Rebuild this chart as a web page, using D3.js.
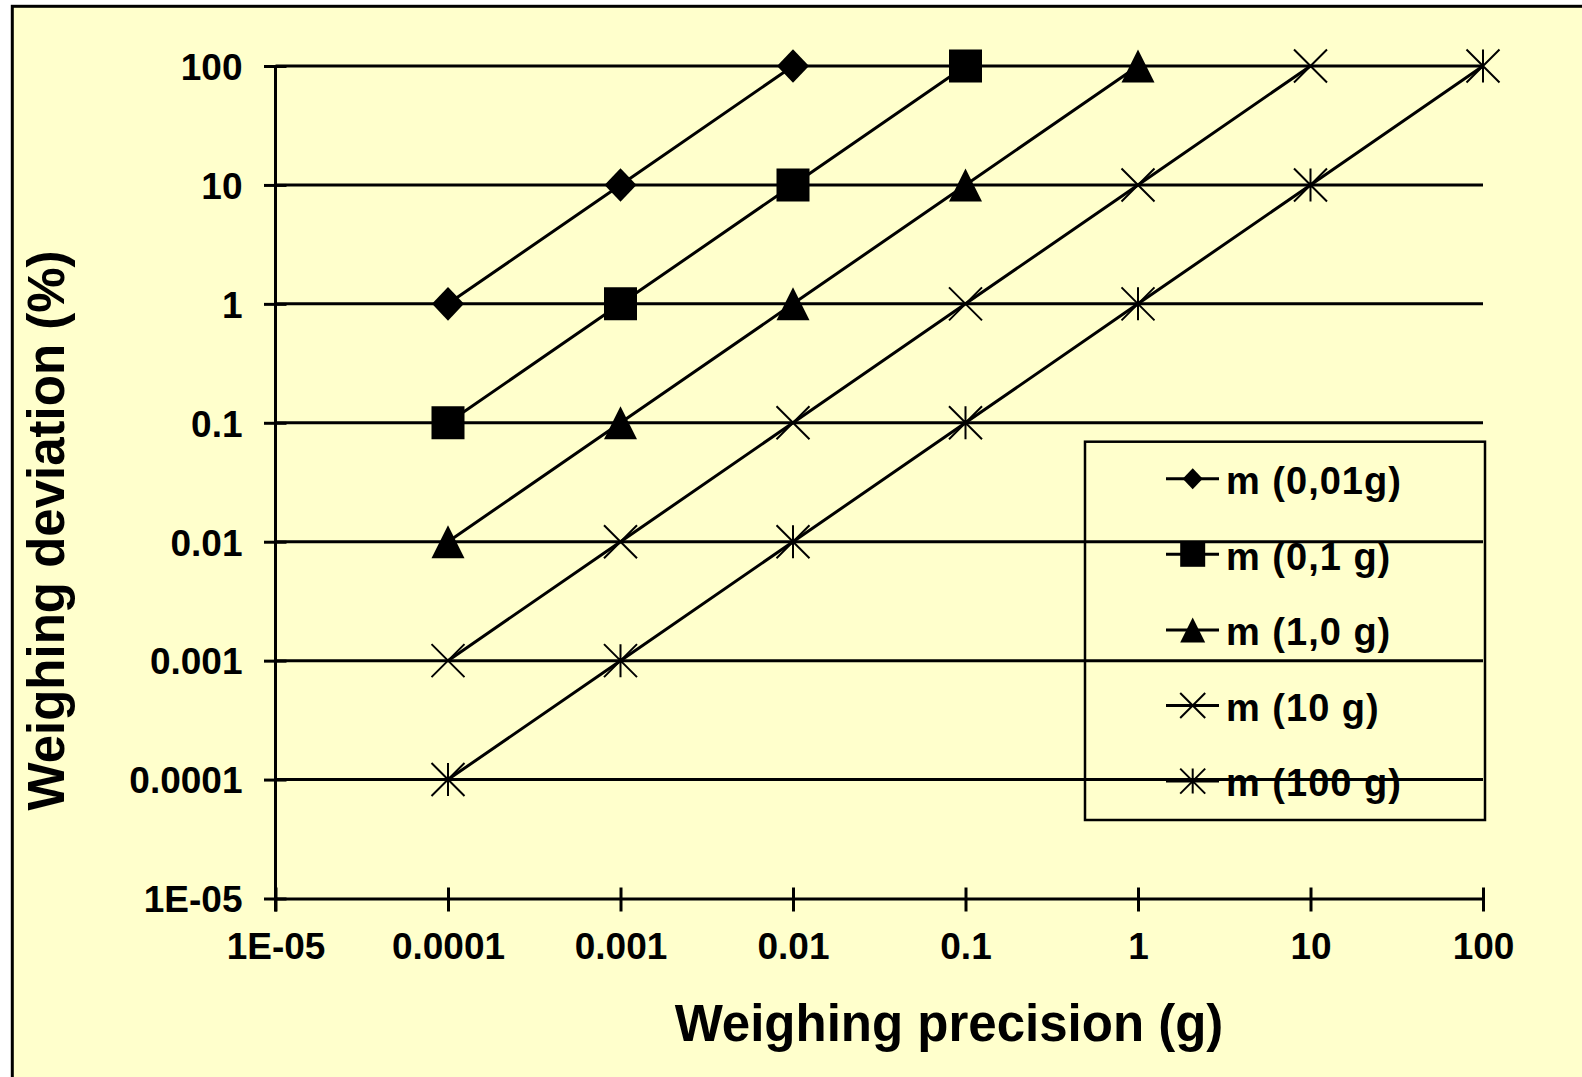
<!DOCTYPE html>
<html>
<head>
<meta charset="utf-8">
<script src="https://cdn.jsdelivr.net/npm/d3@7"></script>
<style>
  body { margin: 0; background: #fff; }
  text { font-family: "Liberation Sans", Arial, sans-serif; font-weight: bold; fill: #000; }
</style>
</head>
<body>
<svg id="chart" width="1582" height="1077"></svg>
<script>
// data
const tickValues = [1e-5, 1e-4, 1e-3, 1e-2, 1e-1, 1, 10, 100];
const xLabels = ["1E-05", "0.0001", "0.001", "0.01", "0.1", "1", "10", "100"];
const yLabels = ["1E-05", "0.0001", "0.001", "0.01", "0.1", "1", "10", "100"];

const precision = [0.0001, 0.001, 0.01, 0.1, 1, 10, 100];
const dev001 = [1, 10, 100];
const dev01 = [0.1, 1, 10, 100];
const dev1 = [0.01, 0.1, 1, 10, 100];
const dev10 = [0.001, 0.01, 0.1, 1, 10, 100];
const dev100 = [0.0001, 0.001, 0.01, 0.1, 1, 10, 100];

const names = ["m (0,01g)", "m (0,1 g)", "m (1,0 g)", "m (10 g)", "m (100 g)"];
const markers = ["diamond", "square", "triangle", "x", "star"];
const devs = [dev001, dev01, dev1, dev10, dev100];

let svg = d3.select("svg#chart");

// chart area background + frame
svg.append("rect")
  .attr("x", 12.3).attr("y", 6.3)
  .attr("width", 1600).attr("height", 1100)
  .attr("fill", "#ffffcc")
  .attr("stroke", "#000").attr("stroke-width", 3);

let x = d3.scaleLog().domain([1e-5, 100]).range([275.5, 1483]);
let y = d3.scaleLog().domain([1e-5, 100]).range([898.5, 66]);

// horizontal gridlines
svg.append("g").selectAll("line")
  .data(tickValues.slice(1))
  .join("line")
  .attr("x1", x(1e-5)).attr("x2", x(100))
  .attr("y1", d => y(d)).attr("y2", d => y(d))
  .attr("stroke", "#000").attr("stroke-width", 3);

// x axis
let xAxis = svg.append("g")
  .attr("transform", "translate(0," + y(1e-5) + ")")
  .call(d3.axisBottom(x).tickValues(tickValues).tickFormat((d, i) => xLabels[i]).tickSizeOuter(0));
xAxis.selectAll("line").attr("y1", -11).attr("y2", 13).attr("stroke-width", 3);
xAxis.select(".domain").attr("stroke-width", 3);
xAxis.selectAll("text")
  .attr("y", 60).attr("dy", null)
  .style("font-size", "37px")
  .style("font-family", "'Liberation Sans', Arial, sans-serif")
  .style("font-weight", "bold");

// y axis
let yAxis = svg.append("g")
  .attr("transform", "translate(" + x(1e-5) + ",0)")
  .call(d3.axisLeft(y).tickValues(tickValues).tickFormat((d, i) => yLabels[i]).tickSizeOuter(0));
yAxis.selectAll("line").attr("x1", 11).attr("x2", -11.5).attr("stroke-width", 3);
yAxis.select(".domain").attr("stroke-width", 3).attr("d", "M0," + (y(1e-5) + 13) + "V" + y(100));
yAxis.selectAll("text")
  .attr("x", -33).attr("dy", "0.36em")
  .style("font-size", "37px")
  .style("font-family", "'Liberation Sans', Arial, sans-serif")
  .style("font-weight", "bold");

// axis titles
svg.append("text")
  .attr("x", 949).attr("y", 1040.7)
  .attr("text-anchor", "middle")
  .style("font-size", "51px")
  .text("Weighing precision (g)");

svg.append("text")
  .attr("transform", "translate(64,530.5) rotate(-90)")
  .attr("text-anchor", "middle")
  .style("font-size", "51px")
  .text("Weighing deviation (%)");

// marker shapes
function markerPath(type, s) {
  let h = s / 2;
  if (type == "diamond") return "M0," + (-h * 1.05) + "L" + h + ",0L0," + (h * 1.05) + "L" + (-h) + ",0Z";
  if (type == "square") return "M" + (-h) + "," + (-h) + "H" + h + "V" + h + "H" + (-h) + "Z";
  if (type == "triangle") return "M0," + (-h) + "L" + h + "," + h + "H" + (-h) + "Z";
  if (type == "x") return "M" + (-h) + "," + (-h) + "L" + h + "," + h + "M" + (-h) + "," + h + "L" + h + "," + (-h);
  return "M" + (-h) + "," + (-h) + "L" + h + "," + h + "M" + (-h) + "," + h + "L" + h + "," + (-h) + "M0," + (-h) + "V" + h;
}
function drawMarker(g, type, s) {
  let filled = type != "x" && type != "star";
  g.append("path")
    .attr("d", markerPath(type, s))
    .attr("fill", filled ? "#000" : "none")
    .attr("stroke", "#000")
    .attr("stroke-width", filled ? 0 : 2);
}

// series
let line = d3.line().x(d => x(d.x)).y(d => y(d.y));
devs.forEach((dev, k) => {
  let pts = dev.map((v, i) => ({ x: precision[i], y: v }));
  svg.append("path")
    .datum(pts)
    .attr("d", line)
    .attr("fill", "none")
    .attr("stroke", "#000")
    .attr("stroke-width", 3);
  pts.forEach(p => {
    let g = svg.append("g").attr("transform", "translate(" + x(p.x) + "," + y(p.y) + ")");
    drawMarker(g, markers[k], markers[k] == "diamond" ? 32 : 33);
  });
});

// legend
let legend = svg.append("g");
legend.append("rect")
  .attr("x", 1085).attr("y", 441.7)
  .attr("width", 400).attr("height", 378.3)
  .attr("fill", "none")
  .attr("stroke", "#000").attr("stroke-width", 2.5);

names.forEach((name, i) => {
  let ly = 478.7 + i * 75.6;
  legend.append("line")
    .attr("x1", 1166).attr("x2", 1219)
    .attr("y1", ly).attr("y2", ly)
    .attr("stroke", "#000").attr("stroke-width", 3);
  let g = legend.append("g").attr("transform", "translate(1192.7," + ly + ")");
  drawMarker(g, markers[i], markers[i] == "diamond" ? 20 : 25);
  legend.append("text")
    .attr("x", 1226).attr("y", ly + 15.3)
    .style("font-size", "38px")
    .style("letter-spacing", "1px")
    .text(name);
});
</script>
</body>
</html>
